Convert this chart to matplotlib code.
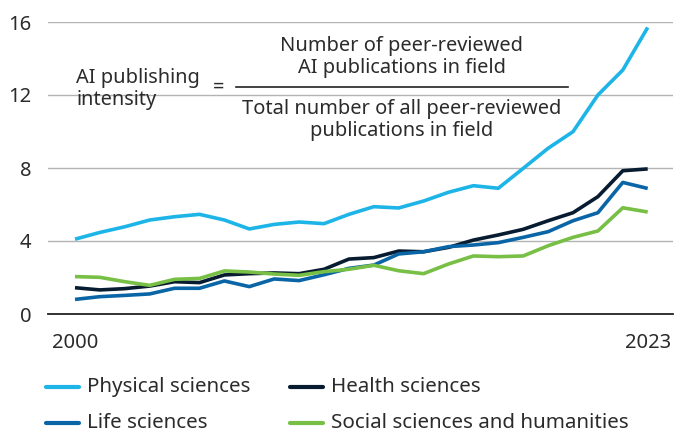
import matplotlib
matplotlib.use("Agg")
import matplotlib.pyplot as plt
from matplotlib.lines import Line2D
from matplotlib.patches import Rectangle

plt.rcParams["font.family"] = ["Noto Sans", "DejaVu Sans"]

TEXT = "#2b2b2b"

years = list(range(2000, 2024))

physical = [4.10, 4.47, 4.78, 5.15, 5.33, 5.46, 5.15, 4.66, 4.91, 5.04, 4.95, 5.46,
            5.88, 5.81, 6.19, 6.67, 7.03, 6.89, 7.98, 9.08, 9.99, 12.0, 13.37, 15.7]
health = [1.44, 1.32, 1.39, 1.53, 1.77, 1.72, 2.14, 2.21, 2.25, 2.21, 2.45, 3.01,
          3.09, 3.45, 3.41, 3.65, 4.05, 4.33, 4.64, 5.11, 5.55, 6.43, 7.85, 7.95]
life = [0.80, 0.95, 1.02, 1.10, 1.41, 1.41, 1.81, 1.50, 1.92, 1.83, 2.15, 2.50,
        2.68, 3.29, 3.41, 3.69, 3.78, 3.91, 4.20, 4.51, 5.11, 5.55, 7.21, 6.88]
social = [2.05, 2.01, 1.77, 1.57, 1.90, 1.95, 2.36, 2.30, 2.19, 2.12, 2.32, 2.45,
          2.67, 2.37, 2.21, 2.74, 3.18, 3.14, 3.18, 3.74, 4.20, 4.55, 5.82, 5.59]

series_names = ["Physical sciences", "Health sciences", "Life sciences",
                "Social sciences and humanities"]
series_values = [physical, health, life, social]
series_colors = ["#1db4e8", "#071c30", "#0a65a6", "#77bf45"]

y_ticks = [0, 4, 8, 12, 16]
x_tick_years = [2000, 2023]

fig = plt.figure(figsize=(6.91, 4.34), dpi=100)
ax = fig.add_axes([48 / 691, 1 - 314 / 434, 625 / 691, 292 / 434])

for name, vals, col in zip(series_names, series_values, series_colors):
    ax.plot(years, vals, color=col, linewidth=2.6, solid_capstyle="butt", zorder=3)

ax.set_xlim(2000 - 27 / 24.9, 2000 + 598 / 24.9)
ax.set_ylim(0, 16)
ax.set_yticks(y_ticks)
ax.set_xticks(x_tick_years)
ax.tick_params(axis="both", length=0, labelsize=14.5, colors=TEXT)
ax.tick_params(axis="y", pad=12)
ax.tick_params(axis="x", pad=14)
for lab in ax.get_yticklabels():
    lab.set_horizontalalignment("right")

ax.grid(axis="y", color="#b3b3b3", linewidth=1.0, zorder=0)
for side in ["top", "right", "left"]:
    ax.spines[side].set_visible(False)
ax.spines["bottom"].set_color("#222222")
ax.spines["bottom"].set_linewidth(1.3)
ax.spines["bottom"].set_zorder(4)

# formula box sits over the 12 gridline
def ax_x(px):
    return (px - 48) / 625

def ax_y(py):
    return (314 - py) / 292

ax.add_patch(Rectangle((ax_x(68), ax_y(145)), ax_x(576) - ax_x(68), ax_y(35) - ax_y(145),
                       transform=ax.transAxes, facecolor="white", edgecolor="none", zorder=1))

fs = 14.4
ls = 1.12
ax.text(ax_x(76), ax_y(89), "AI publishing\nintensity", transform=ax.transAxes,
        ha="left", va="center", fontsize=fs, color=TEXT, linespacing=ls, zorder=5)
ax.text(ax_x(219), ax_y(88), "=", transform=ax.transAxes,
        ha="center", va="center", fontsize=fs, color=TEXT, zorder=5)
ax.plot([ax_x(236), ax_x(568)], [ax_y(87), ax_y(87)], transform=ax.transAxes,
        color="#222222", linewidth=1.2, zorder=5)
ax.text(ax_x(402), ax_y(57), "Number of peer-reviewed\nAI publications in field",
        transform=ax.transAxes, ha="center", va="center", fontsize=fs, color=TEXT,
        linespacing=ls, zorder=5)
ax.text(ax_x(402), ax_y(120), "Total number of all peer-reviewed\npublications in field",
        transform=ax.transAxes, ha="center", va="center", fontsize=fs, color=TEXT,
        linespacing=ls, zorder=5)

# legend: two columns, two rows
legend_slots = [(46, 387), (290, 387), (46, 423), (290, 423)]
for (px, py), name, col in zip(legend_slots, series_names, series_colors):
    fx0, fx1 = px / 691, (px + 33) / 691
    fy = 1 - py / 434
    fig.add_artist(Line2D([fx0, fx1], [fy, fy], color=col, linewidth=3.0,
                          solid_capstyle="round", transform=fig.transFigure))
    fig.text((px + 41) / 691, fy, name, ha="left", va="center",
             fontsize=14.8, color=TEXT)

fig.savefig("out.png", dpi=100)
